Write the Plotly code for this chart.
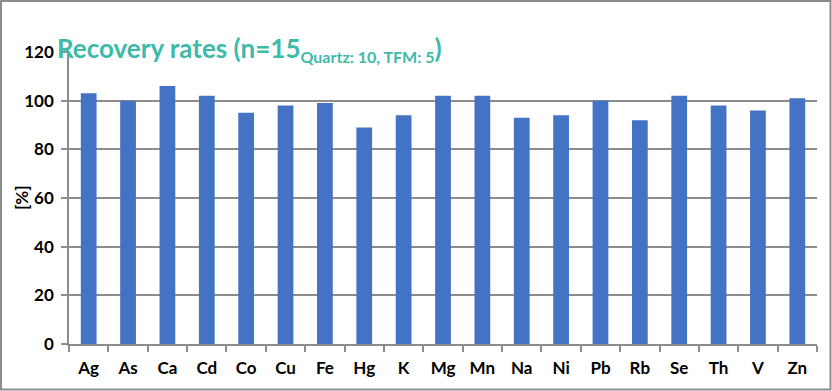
import plotly.graph_objects as go

elements = ["Ag", "As", "Ca", "Cd", "Co", "Cu", "Fe", "Hg", "K", "Mg",
            "Mn", "Na", "Ni", "Pb", "Rb", "Se", "Th", "V", "Zn"]
recovery = [103, 100, 106, 102, 95, 98, 99, 89, 94, 102,
            102, 93, 94, 100, 92, 102, 98, 96, 101]
y_ticks = [0, 20, 40, 60, 80, 100, 120]

W, H = 832, 391
ML, MR, MT, MB = 69, 15, 52, 47
PW, PH = W - ML - MR, H - MT - MB

def px_x(x):
    return (x - ML) / PW

def px_y(y):
    return 1 - (y - MT) / PH

FONT = "Lato"
GRID = "#8c8c8c"

fig = go.Figure(go.Bar(
    x=elements, y=recovery, marker=dict(color="#4472C4", line=dict(width=0)),
    width=0.4,
))

fig.update_layout(
    width=W, height=H,
    margin=dict(l=ML, r=MR, t=MT, b=MB),
    paper_bgcolor="white", plot_bgcolor="white",
    showlegend=False,
    font=dict(family=FONT, color="black"),
    xaxis=dict(
        showgrid=False, ticks="outside", tickson="boundaries", ticklen=6,
        tickcolor=GRID, tickwidth=1.5, showline=True, linecolor=GRID, linewidth=1.5,
        tickfont=dict(family=FONT, size=17, color="black", weight="bold"),
        ticklabelstandoff=8,
    ),
    yaxis=dict(
        range=[0, 120], tickvals=y_ticks, showgrid=True, gridcolor=GRID, gridwidth=1.5,
        zeroline=False, ticks="outside", ticklen=6, tickcolor=GRID, tickwidth=1.5,
        showline=True, linecolor=GRID, linewidth=1.5,
        tickfont=dict(family=FONT, size=17, color="black", weight="bold"),
        ticklabelstandoff=4,
    ),
)

fig.add_annotation(
    xref="paper", yref="paper", x=px_x(21), y=px_y(197), xanchor="center", yanchor="middle",
    text="[%]", textangle=-90, showarrow=False,
    font=dict(family=FONT, size=17, color="black", weight="bold"),
)

fig.add_annotation(
    xref="paper", yref="paper", x=px_x(55), y=px_y(57), xanchor="left", yanchor="bottom",
    text='Recovery rates (n=15<sub><span style="font-size:16px">Quartz: 10, TFM: 5</span></sub>)',
    showarrow=False, font=dict(family=FONT, size=26, color="#3DBAA9", weight="bold"),
    yshift=-11,
)

fig.add_shape(type="rect", xref="paper", yref="paper",
              x0=px_x(1), x1=px_x(W - 1.5), y0=px_y(H - 1.5), y1=px_y(1),
              line=dict(color="#8c8c8c", width=2), layer="above")

fig.write_html("out.html")
